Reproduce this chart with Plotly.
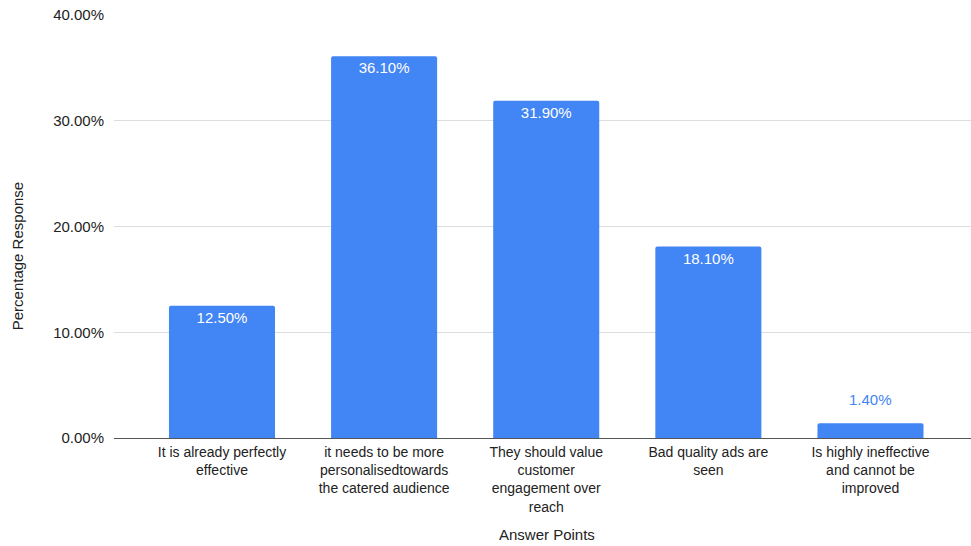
import plotly.graph_objects as go

# Survey answers and share of respondents
categories = [
    "It is already perfectly<br>effective",
    "it needs to be more<br>personalisedtowards<br>the catered audience",
    "They should value<br>customer<br>engagement over<br>reach",
    "Bad quality ads are<br>seen",
    "Is highly ineffective<br>and cannot be<br>improved",
]
values = [0.125, 0.361, 0.319, 0.181, 0.014]
y_ticks = [0.0, 0.1, 0.2, 0.3, 0.4]

BAR = "#4285F4"
TEXT = "#222222"
FONT = "Liberation Sans, Arial, sans-serif"
FS = 15

# small bars get their label above the bar instead of inside it
inside = [v >= 0.05 for v in values]

fig = go.Figure(
    go.Bar(
        x=categories,
        y=values,
        marker=dict(color=BAR, line=dict(width=0), cornerradius=2),
        text=[f"{v:.2%}" if ins else "" for v, ins in zip(values, inside)],
        textposition="inside",
        insidetextanchor="end",
        textfont=dict(color="white", size=FS, family=FONT),
        hoverinfo="skip",
    )
)

for c, v, ins in zip(categories, values, inside):
    if not ins:
        fig.add_annotation(
            x=c, y=v, xref="x", yref="y", text=f"{v:.2%}", showarrow=False,
            yanchor="bottom", yshift=13, font=dict(color=BAR, size=FS, family=FONT),
        )

fig.add_annotation(
    text="Percentage Response", xref="paper", yref="paper", x=-0.113, y=0.43,
    textangle=-90, showarrow=False, xanchor="center", yanchor="middle",
    font=dict(size=FS, color=TEXT, family=FONT),
)
fig.add_annotation(
    text="Answer Points", xref="paper", yref="paper", x=0.505, y=-0.229,
    showarrow=False, xanchor="center", yanchor="middle",
    font=dict(size=FS, color=TEXT, family=FONT),
)

fig.update_layout(
    width=971, height=546,
    margin=dict(l=114, r=0, t=15, b=108),
    paper_bgcolor="white", plot_bgcolor="white",
    bargap=0.346,
    showlegend=False,
    font=dict(family=FONT, color=TEXT, size=FS),
)
fig.update_xaxes(
    range=[-0.666, 4.62], showgrid=False, showline=False, ticks="",
    tickfont=dict(size=14, color=TEXT, family=FONT), ticklabelstandoff=4,
)
fig.update_yaxes(
    range=[0, 0.4], tickvals=y_ticks, tickformat=".2%",
    showgrid=True, gridcolor="#dddddd", gridwidth=1,
    zeroline=True, zerolinecolor="#555555", zerolinewidth=1,
    showline=False, ticks="", ticklabelstandoff=9,
    tickfont=dict(size=FS, color=TEXT),
)

fig.write_html("out.html")
